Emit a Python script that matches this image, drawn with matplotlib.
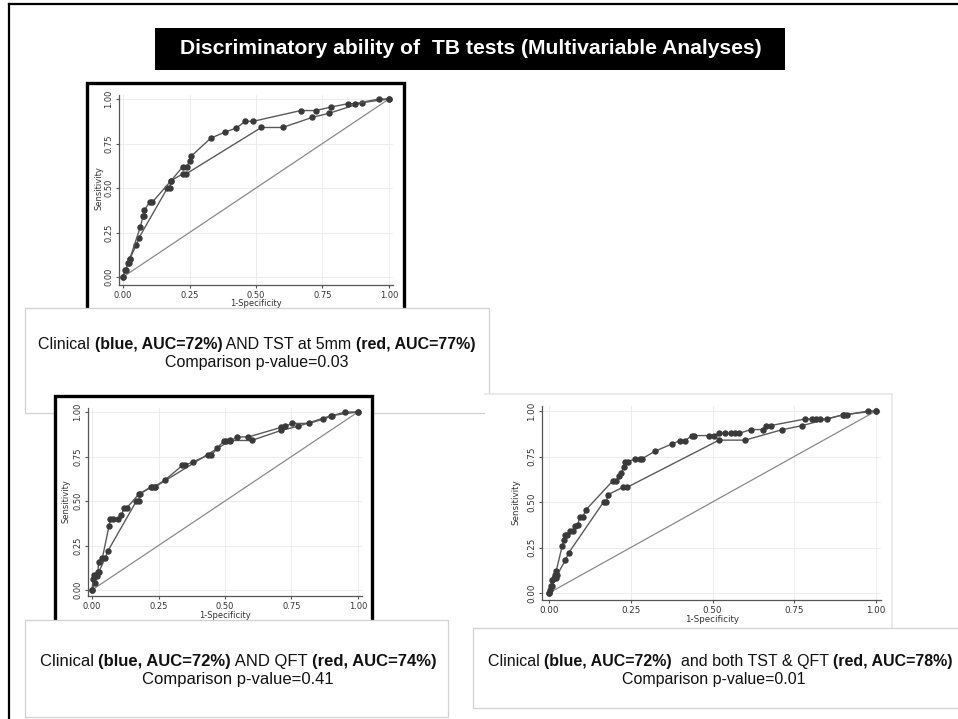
import matplotlib
matplotlib.use('Agg')
import matplotlib.pyplot as plt
from matplotlib.patches import Rectangle
from matplotlib.lines import Line2D

W, H = 958, 719
FONT = ['Liberation Sans', 'DejaVu Sans']
AXFONT = ['DejaVu Sans']

title = 'Discriminatory ability of  TB tests (Multivariable Analyses)'

# clinical model (lower curve, same in every panel)
clin_x = [0.0, 0.01, 0.02, 0.025, 0.05, 0.06, 0.167, 0.175, 0.18, 0.225, 0.238, 0.52, 0.60, 0.712, 0.775, 0.90, 1.0]
clin_y = [0.0, 0.04, 0.08, 0.10, 0.18, 0.22, 0.50, 0.50, 0.54, 0.58, 0.58, 0.84, 0.84, 0.897, 0.92, 0.98, 1.0]

# clinical + TST at 5mm
tst_x = [0.0, 0.009, 0.023, 0.025, 0.065, 0.075, 0.08, 0.08, 0.10, 0.11, 0.18, 0.225, 0.24, 0.25, 0.257,
         0.33, 0.385, 0.426, 0.46, 0.49, 0.668, 0.724, 0.783, 0.846, 0.872, 0.962, 1.0]
tst_y = [0.0, 0.04, 0.08, 0.10, 0.28, 0.34, 0.34, 0.375, 0.42, 0.42, 0.54, 0.62, 0.62, 0.65, 0.68,
         0.78, 0.815, 0.837, 0.875, 0.875, 0.935, 0.935, 0.955, 0.974, 0.974, 1.0, 1.0]

# clinical + QFT
qft_x = [0.0, 0.004, 0.006, 0.022, 0.025, 0.039, 0.064, 0.069, 0.079, 0.098, 0.11, 0.12, 0.13, 0.177,
         0.223, 0.235, 0.276, 0.34, 0.348, 0.38, 0.436, 0.449, 0.47, 0.495, 0.505, 0.52, 0.546, 0.588,
         0.712, 0.727, 0.752, 0.815, 0.87, 0.902, 0.95, 1.0]
qft_y = [0.0, 0.06, 0.085, 0.10, 0.16, 0.18, 0.36, 0.40, 0.40, 0.40, 0.42, 0.46, 0.46, 0.54,
         0.58, 0.58, 0.62, 0.70, 0.70, 0.72, 0.757, 0.757, 0.795, 0.837, 0.837, 0.837, 0.86, 0.86,
         0.914, 0.92, 0.936, 0.936, 0.96, 0.978, 1.0, 1.0]

# clinical + both TST & QFT
both_x = [0.0, 0.002, 0.006, 0.009, 0.016, 0.019, 0.022, 0.04, 0.047, 0.05, 0.055, 0.063, 0.073, 0.08,
          0.088, 0.094, 0.103, 0.113, 0.196, 0.206, 0.215, 0.221, 0.228, 0.233, 0.243, 0.262, 0.277,
          0.284, 0.323, 0.376, 0.401, 0.416, 0.437, 0.442, 0.488, 0.505, 0.521, 0.539, 0.556, 0.569,
          0.582, 0.617, 0.654, 0.664, 0.678, 0.783, 0.803, 0.817, 0.829, 0.849, 0.902, 0.912, 0.977, 1.0]
both_y = [0.0, 0.018, 0.037, 0.073, 0.08, 0.10, 0.12, 0.256, 0.29, 0.316, 0.32, 0.34, 0.34, 0.37,
          0.376, 0.417, 0.417, 0.457, 0.618, 0.618, 0.642, 0.658, 0.695, 0.718, 0.722, 0.737, 0.737,
          0.737, 0.778, 0.819, 0.837, 0.837, 0.865, 0.865, 0.865, 0.865, 0.877, 0.877, 0.877, 0.877,
          0.877, 0.898, 0.898, 0.92, 0.92, 0.956, 0.956, 0.956, 0.956, 0.956, 0.98, 0.98, 1.0, 1.0]

ticks = [0, 0.25, 0.5, 0.75, 1.0]
tick_labels = ['0.00', '0.25', '0.50', '0.75', '1.00']

captions = [
    ([('Clinical ', False), ('(blue, AUC=72%)', True), (' AND TST at 5mm ', False), ('(red, AUC=77%)', True)],
     'Comparison p-value=0.03'),
    ([('Clinical ', False), ('(blue, AUC=72%)', True), (' AND QFT ', False), ('(red, AUC=74%)', True)],
     'Comparison p-value=0.41'),
    ([('Clinical ', False), ('(blue, AUC=72%)', True), ('  and both TST & QFT ', False), ('(red, AUC=78%)', True)],
     'Comparison p-value=0.01'),
]

fig = plt.figure(figsize=(9.58, 7.19), dpi=100)
renderer = fig.canvas.get_renderer()


def fx(x):
    return x / W


def fy(y):
    return 1 - y / H


def rect(x0, y0, x1, y1, **kw):
    r = Rectangle((fx(x0), fy(y1)), (x1 - x0) / W, (y1 - y0) / H, transform=fig.transFigure, **kw)
    fig.patches.append(r)
    return r


def hline(x0, x1, y, **kw):
    fig.lines.append(Line2D([fx(x0), fx(x1)], [fy(y), fy(y)], transform=fig.transFigure, **kw))


def vline(x, y0, y1, **kw):
    fig.lines.append(Line2D([fx(x), fx(x)], [fy(y0), fy(y1)], transform=fig.transFigure, **kw))


def text_width(s, size, bold):
    t = fig.text(0, 0, 'x' + s + 'x', fontsize=size, family=FONT, fontweight='bold' if bold else 'normal')
    w1 = t.get_window_extent(renderer).width
    t.set_text('xx')
    w2 = t.get_window_extent(renderer).width
    t.remove()
    return w1 - w2


def rich_line(cx, cy, parts, size, z):
    # cy is the middle of the capitals; place every piece on one baseline
    widths = [text_width(s, size, b) for s, b in parts]
    base = cy + 0.36 * size * 100 / 72
    x = cx - sum(widths) / 2
    for (s, b), w in zip(parts, widths):
        fig.text(fx(x), fy(base), s, fontsize=size, family=FONT, fontweight='bold' if b else 'normal',
                 ha='left', va='baseline', color='#111111', zorder=z)
        x += w


def plain_line(cx, cy, s, size, z):
    base = cy + 0.36 * size * 100 / 72
    fig.text(fx(cx), fy(base), s, fontsize=size, family=FONT, ha='center', va='baseline',
             color='#111111', zorder=z)


def roc_panel(left, top, right, bottom, x0, x1, y0, y1, other_x, other_y, ylab_x, xlab_y, fs, z):
    ax = fig.add_axes([fx(left), fy(bottom), (right - left) / W, (bottom - top) / H], zorder=z)
    sx = x1 - x0
    sy = y0 - y1
    ax.set_xlim((left - x0) / sx, (right - x0) / sx)
    ax.set_ylim((y0 - bottom) / sy, (y0 - top) / sy)
    ax.patch.set_alpha(0)
    ax.grid(True, color='#ededed', lw=0.8, zorder=0)
    ax.set_axisbelow(True)
    ax.plot([0, 1], [0, 1], color='#8a8a8a', lw=0.9, clip_on=False)
    for xs, ys in [(clin_x, clin_y), (other_x, other_y)]:
        ax.plot(xs, ys, color='#5a5a5a', lw=1.0, marker='o', ms=3.6, mfc='#3a3a3a', mec='#3a3a3a', clip_on=False)
    for s in ['top', 'right']:
        ax.spines[s].set_visible(False)
    for s in ['left', 'bottom']:
        ax.spines[s].set_color('#555555')
        ax.spines[s].set_linewidth(0.9)
    ax.set_xticks(ticks)
    ax.set_yticks(ticks)
    ax.set_xticklabels(tick_labels, fontsize=fs, family=AXFONT, color='#333333')
    ax.set_yticklabels(tick_labels, fontsize=fs, family=AXFONT, color='#333333', rotation=90, va='center')
    ax.tick_params(length=2.5, width=0.8, color='#555555', pad=1.5)
    ax.set_xlabel('1-Specificity', fontsize=fs, family=AXFONT, color='#333333', va='center')
    ax.set_ylabel('Sensitivity', fontsize=fs, family=AXFONT, color='#333333', va='center')
    ax.xaxis.set_label_coords((x0 + sx / 2 - left) / (right - left), (bottom - xlab_y) / (bottom - top))
    ax.yaxis.set_label_coords((ylab_x - left) / (right - left), (bottom - (y0 - sy / 2)) / (bottom - top))
    return ax


# outer slide frame
vline(9, 4, 719, color='black', lw=1.6, zorder=0)
hline(9, 958, 4, color='black', lw=1.6, zorder=0)

# title
rect(155, 28, 785, 70, facecolor='black', edgecolor='none', zorder=1)
fig.text(fx(471), fy(49), title, fontsize=15.2, family=FONT, fontweight='bold', color='white',
         ha='center', va='center', zorder=2)

# panel 1: clinical vs TST
rect(87, 83, 404, 330, facecolor='white', edgecolor='black', lw=2.4, zorder=1)
roc_panel(119, 95, 393, 285, 123, 389, 277, 99, tst_x, tst_y, 99, 303, 6.0, 1.5)

# caption 1
rect(25, 308, 489, 413, facecolor='white', edgecolor='#d2d2d2', lw=0.9, zorder=2)
rich_line(257, 343, captions[0][0], 11.5, 2.5)
plain_line(257, 361, captions[0][1], 11.5, 2.5)

# panel 2: clinical vs QFT
rect(55, 396, 372, 640, facecolor='white', edgecolor='black', lw=2.4, zorder=3)
roc_panel(88, 408, 362, 596, 92, 358, 590, 412, qft_x, qft_y, 66, 616, 6.0, 3.5)

# panel 3: clinical vs both
rect(485, 394, 892, 640, facecolor='white', edgecolor='none', zorder=3)
hline(485, 892, 394, color='#e8e8e8', lw=1.2, zorder=3.2)
vline(892, 394, 640, color='#e8e8e8', lw=1.2, zorder=3.2)
roc_panel(542, 406, 881, 600, 549, 876, 593, 411, both_x, both_y, 516, 620, 6.3, 3.5)

# captions 2 and 3
rect(25, 620, 448, 717, facecolor='white', edgecolor='#d2d2d2', lw=0.9, zorder=5)
rich_line(238, 660, captions[1][0], 12, 5.5)
plain_line(238, 678, captions[1][1], 12, 5.5)

rect(473, 628, 962, 708, facecolor='white', edgecolor='#d2d2d2', lw=0.9, zorder=5)
rich_line(720, 660, captions[2][0], 11.5, 5.5)
plain_line(714, 678, captions[2][1], 11.5, 5.5)

fig.savefig('out.png', dpi=100)
